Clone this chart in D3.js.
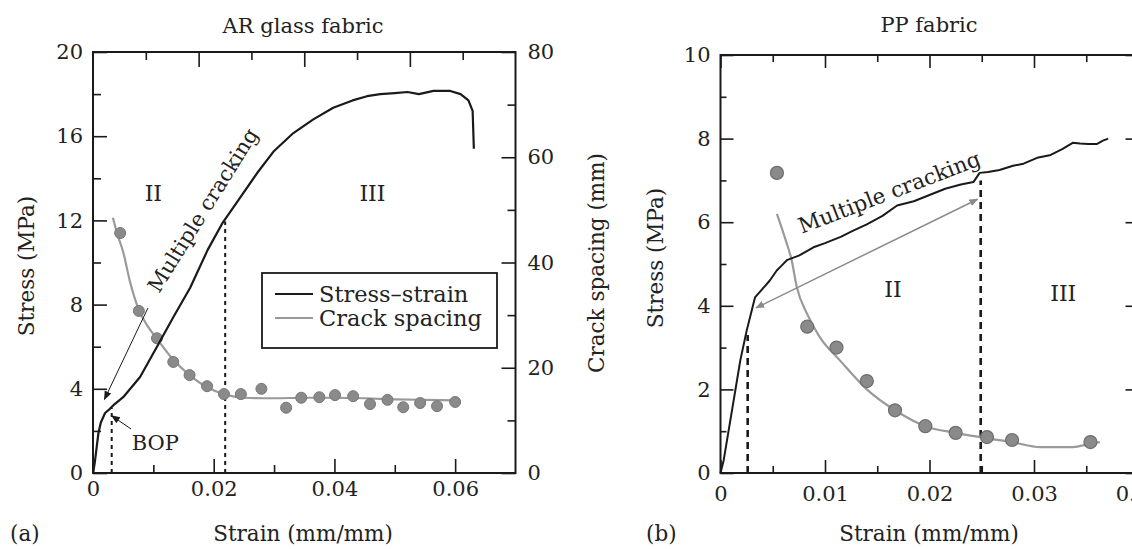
<!DOCTYPE html>
<html>
<head>
<meta charset="utf-8">
<script src="https://cdnjs.cloudflare.com/ajax/libs/d3/7.8.5/d3.min.js"></script>
<style>
    body { margin: 0; background: #fff; }
    svg { display: block; font-family: "DejaVu Serif", serif; }
    .tick text { fill: #222; }
</style>
</head>
<body>
<svg width="1132" height="549"></svg>
<script>
// (a) AR glass fabric - stress-strain curve
var strainA = [0, 0.0003, 0.0006, 0.0009, 0.0013, 0.002, 0.0028, 0.0035, 0.005, 0.0078, 0.0106, 0.0133, 0.0161, 0.019, 0.0215, 0.0232, 0.0272, 0.030, 0.0332, 0.0365, 0.0398, 0.043, 0.0454, 0.0476, 0.050, 0.0521, 0.054, 0.0564, 0.0592, 0.0609, 0.0622, 0.0629, 0.0631];
var stressA = [0, 0.5, 1.2, 1.9, 2.4, 2.85, 3.05, 3.25, 3.6, 4.56, 6.0, 7.4, 8.8, 10.6, 11.9, 12.6, 14.25, 15.3, 16.15, 16.8, 17.35, 17.7, 17.9, 18.0, 18.05, 18.1, 18.0, 18.15, 18.15, 18.0, 17.7, 17.2, 15.4];

// (a) crack spacing (mm), fitted curve and measured points
var crackFitStrainA = [0.0033, 0.004, 0.005, 0.0061, 0.0076, 0.009, 0.0106, 0.0133, 0.016, 0.0189, 0.0217, 0.025, 0.030, 0.035, 0.040, 0.045, 0.050, 0.055, 0.060];
var crackFitA = [48.5, 45.5, 42, 36.5, 31, 28, 25.5, 21.5, 18.6, 16.3, 15.0, 14.3, 14.2, 14.3, 14.3, 14.2, 14.0, 13.9, 13.8];
var crackStrainA = [0.0045, 0.0076, 0.0106, 0.0133, 0.016, 0.0189, 0.0217, 0.0245, 0.0279, 0.032, 0.0345, 0.0375, 0.0401, 0.0431, 0.0459, 0.0488, 0.0514, 0.0542, 0.057, 0.060];
var crackA = [45.6, 30.8, 25.6, 21.1, 18.6, 16.5, 15.0, 15.0, 16.0, 12.4, 14.3, 14.4, 14.8, 14.6, 13.1, 13.9, 12.5, 13.3, 12.7, 13.5];

// (b) PP fabric - stress-strain curve
var strainB = [0, 0.0003, 0.0007, 0.0011, 0.0015, 0.0019, 0.0025, 0.003, 0.0033, 0.004, 0.0047, 0.0054, 0.0058, 0.0064, 0.0075, 0.0089, 0.010, 0.0115, 0.0127, 0.014, 0.0155, 0.0169, 0.0185, 0.020, 0.0215, 0.023, 0.0242, 0.0248, 0.0256, 0.0267, 0.028, 0.029, 0.0303, 0.0315, 0.0327, 0.0337, 0.0344, 0.0352, 0.036, 0.0366, 0.0371];
var stressB = [0, 0.3, 0.9, 1.5, 2.1, 2.7, 3.4, 3.9, 4.2, 4.4, 4.6, 4.85, 4.95, 5.1, 5.2, 5.4, 5.5, 5.65, 5.8, 5.95, 6.15, 6.4, 6.5, 6.65, 6.8, 6.9, 6.96, 7.18, 7.2, 7.25, 7.35, 7.4, 7.54, 7.6, 7.75, 7.9, 7.88, 7.87, 7.87, 7.95, 8.0];

// (b) crack spacing, drawn against the stress scale
var crackFitStrainB = [0.0054, 0.0062, 0.0068, 0.0073, 0.0083, 0.0095, 0.0114, 0.014, 0.0167, 0.0196, 0.0225, 0.0255, 0.0279, 0.0306, 0.0337, 0.0354, 0.0363];
var crackFitB = [6.2, 5.6, 5.1, 4.45, 3.8, 3.25, 2.7, 2.0, 1.5, 1.12, 0.96, 0.83, 0.74, 0.62, 0.62, 0.7, 0.74];
var crackStrainB = [0.0054, 0.0083, 0.0111, 0.014, 0.0167, 0.0196, 0.0225, 0.0255, 0.0279, 0.0354];
var crackB = [7.18, 3.5, 3.0, 2.2, 1.5, 1.12, 0.96, 0.86, 0.79, 0.74];

// tick values
var xMajorA = [0, 0.02, 0.04, 0.06], xMinorA = [0.01, 0.03, 0.05];
var yMajorA = [0, 4, 8, 12, 16, 20], yMinorA = [2, 6, 10, 14, 18];
var y2MajorA = [0, 20, 40, 60, 80], y2MinorA = [10, 30, 50, 70];
var topTicksA = [1, 2, 3, 4, 5, 6, 7]; // top frame of (a) is split in 8, not in strain steps
var xMajorB = [0, 0.01, 0.02, 0.03, 0.04], xMinorB = [0.005, 0.015, 0.025, 0.035];
var yMajorB = [0, 2, 4, 6, 8, 10], yMinorB = [1, 3, 5, 7, 9];

var svg = d3.select("svg");
var ink = "#1a1a1a", grey = "#9a9a9a", dotFill = "#8a8a8a";

var xA = d3.scaleLinear().domain([0, 0.07]).range([93, 515.5]);
var yA = d3.scaleLinear().domain([0, 20]).range([473, 52]);
var y2A = d3.scaleLinear().domain([0, 80]).range([473, 52]);
var topA = d3.scaleLinear().domain([0, 8]).range([93, 515.5]);

var xB = d3.scaleLinear().domain([0, 0.04]).range([720.5, 1138.5]);
var yB = d3.scaleLinear().domain([0, 10]).range([473, 55]);

var fmt = function (d) { return d === 0 ? "0" : d3.format(".2f")(d); };

function addAxis(axis, tx, ty) {
    var g = svg.append("g")
        .attr("transform", "translate(" + tx + "," + ty + ")")
        .style("font-family", "DejaVu Serif")
        .style("font-size", "21px")
        .call(axis);
    g.select(".domain").remove();
    g.selectAll(".tick line").attr("stroke", ink).attr("stroke-width", 1.6);
    return g;
}

svg.append("defs").selectAll("marker")
    .data([["headBlack", ink], ["headGrey", "#8a8a8a"]])
    .enter().append("marker")
    .attr("id", function (d) { return d[0]; })
    .attr("viewBox", "0 0 10 10")
    .attr("refX", 9).attr("refY", 5)
    .attr("markerWidth", 9).attr("markerHeight", 9)
    .attr("markerUnits", "userSpaceOnUse")
    .attr("orient", "auto-start-reverse")
    .append("path")
    .attr("d", "M0,1 L10,5 L0,9 Z")
    .attr("fill", function (d) { return d[1]; });

// ---------- panel (a) ----------
addAxis(d3.axisBottom(xA).tickValues(xMajorA).tickSize(-14).tickPadding(8).tickFormat(fmt), 0, 473);
addAxis(d3.axisBottom(xA).tickValues(xMinorA).tickSize(-8).tickFormat(""), 0, 473);
addAxis(d3.axisLeft(yA).tickValues(yMajorA).tickSize(-14).tickPadding(10), 93, 0);
addAxis(d3.axisLeft(yA).tickValues(yMinorA).tickSize(-8).tickFormat(""), 93, 0);
addAxis(d3.axisRight(y2A).tickValues(y2MajorA).tickSize(-14).tickPadding(12), 515.5, 0);
addAxis(d3.axisRight(y2A).tickValues(y2MinorA).tickSize(-8).tickFormat(""), 515.5, 0);
addAxis(d3.axisTop(topA).tickValues(topTicksA.filter(function (d) { return d % 2 === 0; })).tickSize(-15).tickFormat(""), 0, 52);
addAxis(d3.axisTop(topA).tickValues(topTicksA.filter(function (d) { return d % 2 === 1; })).tickSize(-8).tickFormat(""), 0, 52);

svg.append("rect")
    .attr("x", xA(0)).attr("y", yA(20))
    .attr("width", xA(0.07) - xA(0)).attr("height", yA(0) - yA(20))
    .attr("fill", "none").attr("stroke", ink).attr("stroke-width", 2);

// dashed region boundaries
svg.selectAll("line.dashA")
    .data([[0.0031, 3.1], [0.0219, 11.95]])
    .enter().append("line")
    .attr("class", "dashA")
    .attr("x1", function (d) { return xA(d[0]); })
    .attr("x2", function (d) { return xA(d[0]); })
    .attr("y1", yA(0))
    .attr("y2", function (d) { return yA(d[1]); })
    .attr("stroke", ink).attr("stroke-width", 2).attr("stroke-dasharray", "4,4");

var lineA = d3.line()
    .x(function (d) { return xA(d[0]); })
    .y(function (d) { return yA(d[1]); });
var crackLineA = d3.line()
    .curve(d3.curveMonotoneX)
    .x(function (d) { return xA(d[0]); })
    .y(function (d) { return y2A(d[1]); });

svg.append("path")
    .datum(d3.zip(crackFitStrainA, crackFitA))
    .attr("d", crackLineA)
    .attr("fill", "none").attr("stroke", grey).attr("stroke-width", 2.2);

svg.selectAll("circle.ptA")
    .data(d3.zip(crackStrainA, crackA))
    .enter().append("circle")
    .attr("class", "ptA")
    .attr("cx", function (d) { return xA(d[0]); })
    .attr("cy", function (d) { return y2A(d[1]); })
    .attr("r", 5.5)
    .attr("fill", dotFill).attr("stroke", "#777").attr("stroke-width", 1);

svg.append("path")
    .datum(d3.zip(strainA, stressA))
    .attr("d", lineA)
    .attr("fill", "none").attr("stroke", ink).attr("stroke-width", 2.2)
    .attr("stroke-linejoin", "round");

// annotations (a)
svg.append("line")
    .attr("x1", xA(0.0091)).attr("y1", yA(7.84))
    .attr("x2", xA(0.0019)).attr("y2", yA(3.5))
    .attr("stroke", ink).attr("stroke-width", 1)
    .attr("marker-end", "url(#headBlack)");
svg.append("line")
    .attr("x1", xA(0.0063)).attr("y1", yA(2.09))
    .attr("x2", xA(0.0031)).attr("y2", yA(2.72))
    .attr("stroke", ink).attr("stroke-width", 1)
    .attr("marker-end", "url(#headBlack)");

svg.append("text")
    .attr("transform", "translate(" + xA(0.0192) + "," + yA(12.3) + ") rotate(-58)")
    .attr("text-anchor", "middle")
    .style("font-size", "21px").attr("fill", "#222")
    .text("Multiple cracking");
svg.append("text")
    .attr("x", xA(0.0064)).attr("y", yA(1.1))
    .style("font-size", "21px").attr("fill", "#222")
    .text("BOP");
svg.selectAll("text.regionA")
    .data([["II", 0.01], ["III", 0.0463]])
    .enter().append("text")
    .attr("class", "regionA")
    .attr("x", function (d) { return xA(d[1]); })
    .attr("y", yA(13.3))
    .attr("dy", "0.35em")
    .attr("text-anchor", "middle")
    .style("font-size", "22px").attr("fill", "#222")
    .text(function (d) { return d[0]; });

// legend
var legend = svg.append("g").attr("class", "legend");
legend.append("rect")
    .attr("x", 262).attr("y", 273).attr("width", 235).attr("height", 75)
    .attr("fill", "#fff").attr("stroke", ink).attr("stroke-width", 1.8);
legend.selectAll("line")
    .data([[ink, 294], [grey, 318]])
    .enter().append("line")
    .attr("x1", 275).attr("x2", 313)
    .attr("y1", function (d) { return d[1]; })
    .attr("y2", function (d) { return d[1]; })
    .attr("stroke", function (d) { return d[0]; })
    .attr("stroke-width", 2.2);
legend.selectAll("text")
    .data([["Stress\u2013strain", 302], ["Crack spacing", 326]])
    .enter().append("text")
    .attr("x", 319)
    .attr("y", function (d) { return d[1]; })
    .style("font-size", "22.5px").attr("fill", "#222")
    .text(function (d) { return d[0]; });

// titles and labels (a)
svg.append("text").attr("x", 303).attr("y", 33).attr("text-anchor", "middle")
    .style("font-size", "21px").attr("fill", "#222").text("AR glass fabric");
svg.append("text").attr("x", 303).attr("y", 541).attr("text-anchor", "middle")
    .style("font-size", "21.5px").attr("fill", "#222").text("Strain (mm/mm)");
svg.append("text").attr("transform", "translate(34,266) rotate(-90)").attr("text-anchor", "middle")
    .style("font-size", "21.5px").attr("fill", "#222").text("Stress (MPa)");
svg.append("text").attr("transform", "translate(604,263) rotate(-90)").attr("text-anchor", "middle")
    .style("font-size", "21.5px").attr("fill", "#222").text("Crack spacing (mm)");
svg.append("text").attr("x", 10).attr("y", 541)
    .style("font-size", "21.5px").attr("fill", "#222").text("(a)");

// ---------- panel (b) ----------
addAxis(d3.axisBottom(xB).tickValues(xMajorB).tickSize(-13).tickPadding(13).tickFormat(fmt), 0, 473);
addAxis(d3.axisBottom(xB).tickValues(xMinorB).tickSize(-7).tickFormat(""), 0, 473);
addAxis(d3.axisTop(xB).tickValues(xMajorB).tickSize(-13).tickFormat(""), 0, 55);
addAxis(d3.axisTop(xB).tickValues(xMinorB).tickSize(-7).tickFormat(""), 0, 55);
addAxis(d3.axisLeft(yB).tickValues(yMajorB).tickSize(-13).tickPadding(10), 720.5, 0);
addAxis(d3.axisLeft(yB).tickValues(yMinorB).tickSize(-6).tickFormat(""), 720.5, 0);
addAxis(d3.axisRight(yB).tickValues(yMajorB).tickSize(-13).tickFormat(""), 1138.5, 0);
addAxis(d3.axisRight(yB).tickValues(yMinorB).tickSize(-6).tickFormat(""), 1138.5, 0)
    .selectAll(".tick line").attr("stroke", "#ccc");

svg.append("rect")
    .attr("x", xB(0)).attr("y", yB(10))
    .attr("width", xB(0.04) - xB(0)).attr("height", yB(0) - yB(10))
    .attr("fill", "none").attr("stroke", ink).attr("stroke-width", 2);

svg.selectAll("line.dashB")
    .data([[0.0026, 3.3], [0.0249, 7.0]])
    .enter().append("line")
    .attr("class", "dashB")
    .attr("x1", function (d) { return xB(d[0]); })
    .attr("x2", function (d) { return xB(d[0]); })
    .attr("y1", yB(0))
    .attr("y2", function (d) { return yB(d[1]); })
    .attr("stroke", ink).attr("stroke-width", 2.6).attr("stroke-dasharray", "7,5");

var lineB = d3.line()
    .x(function (d) { return xB(d[0]); })
    .y(function (d) { return yB(d[1]); });

svg.append("path")
    .datum(d3.zip(crackFitStrainB, crackFitB))
    .attr("d", lineB.curve(d3.curveMonotoneX))
    .attr("fill", "none").attr("stroke", grey).attr("stroke-width", 2.2);
lineB.curve(d3.curveLinear);

svg.selectAll("circle.ptB")
    .data(d3.zip(crackStrainB, crackB))
    .enter().append("circle")
    .attr("class", "ptB")
    .attr("cx", function (d) { return xB(d[0]); })
    .attr("cy", function (d) { return yB(d[1]); })
    .attr("r", 6.5)
    .attr("fill", dotFill).attr("stroke", "#6e6e6e").attr("stroke-width", 1.2);

svg.append("path")
    .datum(d3.zip(strainB, stressB))
    .attr("d", lineB)
    .attr("fill", "none").attr("stroke", ink).attr("stroke-width", 2)
    .attr("stroke-linejoin", "round");

// double arrow across the multiple cracking zone
svg.append("line")
    .attr("x1", xB(0.0034)).attr("y1", yB(3.95))
    .attr("x2", xB(0.0246)).attr("y2", yB(6.55))
    .attr("stroke", "#8a8a8a").attr("stroke-width", 1.5)
    .attr("marker-start", "url(#headGrey)")
    .attr("marker-end", "url(#headGrey)");

svg.append("text")
    .attr("transform", "translate(" + xB(0.0164) + "," + yB(6.55) + ") rotate(-21)")
    .attr("text-anchor", "middle")
    .style("font-size", "21.5px").attr("fill", "#222")
    .text("Multiple cracking");
svg.selectAll("text.regionB")
    .data([["II", 0.0165, 4.4], ["III", 0.0328, 4.3]])
    .enter().append("text")
    .attr("class", "regionB")
    .attr("x", function (d) { return xB(d[1]); })
    .attr("y", function (d) { return yB(d[2]); })
    .attr("dy", "0.35em")
    .attr("text-anchor", "middle")
    .style("font-size", "22px").attr("fill", "#222")
    .text(function (d) { return d[0]; });

svg.append("text").attr("x", 929).attr("y", 32).attr("text-anchor", "middle")
    .style("font-size", "21px").attr("fill", "#222").text("PP fabric");
svg.append("text").attr("x", 929).attr("y", 541).attr("text-anchor", "middle")
    .style("font-size", "21.5px").attr("fill", "#222").text("Strain (mm/mm)");
svg.append("text").attr("transform", "translate(663,258) rotate(-90)").attr("text-anchor", "middle")
    .style("font-size", "21.5px").attr("fill", "#222").text("Stress (MPa)");
svg.append("text").attr("x", 646).attr("y", 541)
    .style("font-size", "21.5px").attr("fill", "#222").text("(b)");
</script>
</body>
</html>
